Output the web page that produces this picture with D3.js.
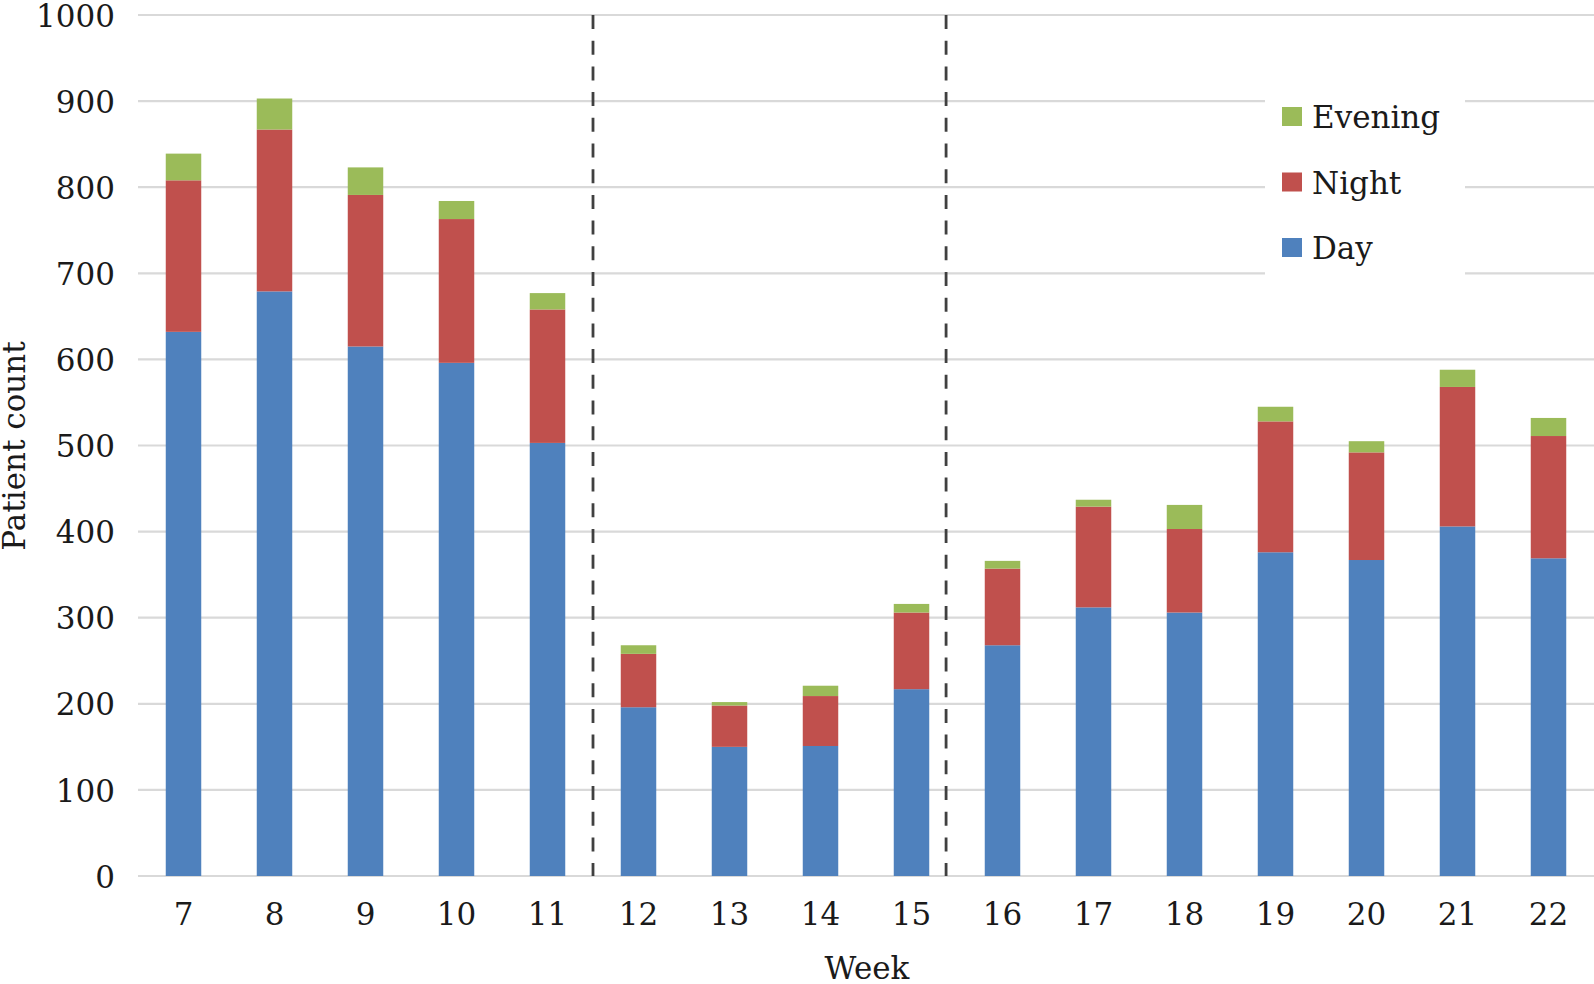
<!DOCTYPE html>
<html>
<head>
<meta charset="utf-8">
<script src="https://cdn.jsdelivr.net/npm/d3@7"></script>
<style>
  body { margin: 0; background: #fff; }
  text { font-family: "DejaVu Serif", serif; fill: #1a1a1a; }
</style>
</head>
<body>
<div id="chart"></div>
<script>
// weekly patient counts by shift
var weeks   = [7, 8, 9, 10, 11, 12, 13, 14, 15, 16, 17, 18, 19, 20, 21, 22];
var day     = [632, 679, 615, 596, 503, 196, 150, 151, 217, 268, 312, 306, 376, 367, 406, 369];
var night   = [176, 188, 176, 167, 155, 62, 48, 58, 89, 89, 117, 97, 152, 125, 162, 142];
var evening = [31, 36, 32, 21, 19, 10, 4, 12, 10, 9, 8, 28, 17, 13, 20, 21];
var yTicks  = [0, 100, 200, 300, 400, 500, 600, 700, 800, 900, 1000];
var dividers = [11.5, 15.38];   // dashed period separators, in week units
var shifts  = ["day", "night", "evening"];
var legendOrder = ["evening", "night", "day"];
var labels  = { day: "Day", night: "Night", evening: "Evening" };
var colors  = { day: "#4f81bd", night: "#c0504d", evening: "#9bbb59" };

var W = 1594, H = 984;
var plotL = 138, plotR = 1594, plotT = 15, plotB = 876;

var rows = weeks.map(function(w, i) {
	return { week: w, day: day[i], night: night[i], evening: evening[i] };
});

var svg = d3.select("#chart").append("svg")
	.attr("width", W)
	.attr("height", H);

var x = d3.scaleBand()
	.domain(weeks)
	.range([plotL, plotR])
	.paddingInner(0.61)
	.paddingOuter(0.305);

var y = d3.scaleLinear()
	.domain([0, 1000])
	.range([plotB, plotT]);

// week value -> pixel (for the dashed dividers)
var xCenter = d3.scaleLinear()
	.domain([weeks[0], weeks[weeks.length - 1]])
	.range([x(weeks[0]) + x.bandwidth() / 2, x(weeks[weeks.length - 1]) + x.bandwidth() / 2]);

// gridlines
svg.append("g").selectAll("line").data(yTicks)
	.enter().append("line")
	.attr("x1", plotL)
	.attr("x2", plotR)
	.attr("y1", function(d) { return y(d); })
	.attr("y2", function(d) { return y(d); })
	.attr("stroke", "#d9d9d9")
	.attr("stroke-width", 2.2);

// y axis labels
var yAxis = svg.append("g")
	.attr("transform", "translate(" + (plotL - 23) + ",0)")
	.call(d3.axisLeft(y).tickValues(yTicks).tickFormat(d3.format("d")).tickSize(0).tickPadding(0));
yAxis.select(".domain").remove();
yAxis.selectAll("text")
	.attr("font-size", 31)
	.attr("dy", "0.36em")
	.style("font-family", "DejaVu Serif, serif")
	.attr("fill", "#1a1a1a");

// x axis labels
var xAxis = svg.append("g")
	.attr("transform", "translate(0," + plotB + ")")
	.call(d3.axisBottom(x).tickSize(0).tickPadding(0));
xAxis.select(".domain").remove();
xAxis.selectAll("text")
	.attr("font-size", 31)
	.attr("y", 49)
	.attr("dy", 0)
	.style("font-family", "DejaVu Serif, serif")
	.attr("fill", "#1a1a1a");

// stacked bars
var stacked = d3.stack().keys(shifts)(rows);

var layer = svg.append("g").selectAll("g").data(stacked)
	.enter().append("g")
	.attr("fill", function(d) { return colors[d.key]; });

layer.selectAll("rect").data(function(d) { return d; })
	.enter().append("rect")
	.attr("x", function(d) { return x(d.data.week); })
	.attr("y", function(d) { return y(d[1]); })
	.attr("width", x.bandwidth())
	.attr("height", function(d) { return y(d[0]) - y(d[1]); });

// dashed dividers
svg.append("g").selectAll("line").data(dividers)
	.enter().append("line")
	.attr("x1", function(d) { return xCenter(d); })
	.attr("x2", function(d) { return xCenter(d); })
	.attr("y1", y(1000))
	.attr("y2", y(0))
	.attr("stroke", "#404040")
	.attr("stroke-width", 2.8)
	.attr("stroke-dasharray", "14,11.7");

// legend
var lg = svg.append("g").attr("transform", "translate(1265,88)");
lg.append("rect")
	.attr("width", 200)
	.attr("height", 200)
	.attr("fill", "#fff");
var item = lg.selectAll("g.item").data(legendOrder)
	.enter().append("g")
	.attr("class", "item")
	.attr("transform", function(d, i) { return "translate(0," + (i * 65.5) + ")"; });
item.append("rect")
	.attr("x", 17)
	.attr("y", 19)
	.attr("width", 20)
	.attr("height", 19)
	.attr("fill", function(d) { return colors[d]; });
item.append("text")
	.attr("x", 47)
	.attr("y", 40)
	.attr("font-size", 31)
	.text(function(d) { return labels[d]; });

// axis titles
svg.append("text")
	.attr("x", 867)
	.attr("y", 979)
	.attr("text-anchor", "middle")
	.attr("font-size", 31)
	.text("Week");

svg.append("text")
	.attr("transform", "translate(25,446) rotate(-90)")
	.attr("text-anchor", "middle")
	.attr("font-size", 31)
	.text("Patient count");
</script>
</body>
</html>
